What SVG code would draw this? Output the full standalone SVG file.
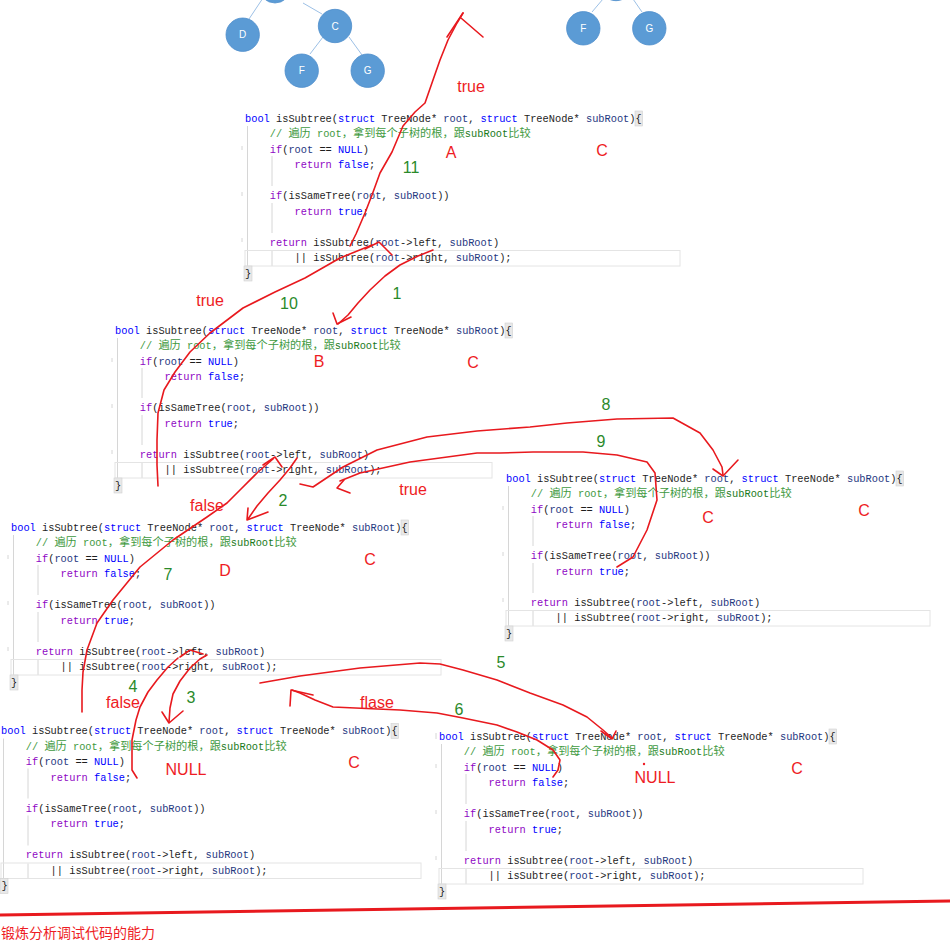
<svg xmlns="http://www.w3.org/2000/svg" width="950" height="941" viewBox="0 0 950 941">
<style>
.code{font-family:"Liberation Mono",monospace;font-size:10.33px;fill:#1e1e1e}
.k{fill:#0000ff}
.c{fill:#8f08c4}
.p{fill:#1f377f}
.m{fill:#3f9a3f}
.ms{fill:#1a7a1a}
.zh{font-family:"Noto Sans CJK SC",sans-serif;font-size:11.2px}
.g{stroke:#d6d6d6;stroke-width:1;fill:none}
.cur{fill:none;stroke:#e4e4e4;stroke-width:1}
.br{fill:#e8e8e8;stroke:#d0d0d0;stroke-width:.6}
.ink{fill:none;stroke:#e8191e;stroke-width:1.6;stroke-linecap:round;stroke-linejoin:round}
.rl{font-family:"Liberation Sans",sans-serif;font-size:16px;fill:#ee1c24;text-anchor:middle}
.gl{font-family:"Liberation Sans",sans-serif;font-size:16px;fill:#2a8a2a;text-anchor:middle}
.tn{fill:#5b9bd5;stroke:#4f8ecb;stroke-width:.8}
.te{stroke:#9cc0e6;stroke-width:1}
.tl{font-family:"Liberation Sans",sans-serif;font-size:10px;fill:#ffffff;text-anchor:middle}
</style>
<rect x="0" y="0" width="950" height="941" fill="#ffffff"/>

<g id="tree-left">
<line class="te" x1="263" y1="-2" x2="249" y2="19"/>
<line class="te" x1="303" y1="3" x2="322" y2="14"/>
<line class="te" x1="323" y1="37" x2="310" y2="54"/>
<line class="te" x1="349" y1="37" x2="362" y2="55"/>
<circle class="tn" cx="275" cy="-13" r="16"/>
<circle class="tn" cx="242.7" cy="34.7" r="16.7"/>
<circle class="tn" cx="335" cy="26" r="16.7"/>
<circle class="tn" cx="301.7" cy="70.7" r="16.7"/>
<circle class="tn" cx="367.7" cy="70.7" r="16.7"/>
<text class="tl" x="242.7" y="38.2">D</text>
<text class="tl" x="335" y="29.5">C</text>
<text class="tl" x="301.7" y="74.2">F</text>
<text class="tl" x="367.7" y="74.2">G</text>
</g>
<g id="tree-right">
<line class="te" x1="592" y1="12" x2="603" y2="-1"/>
<line class="te" x1="642" y1="12" x2="633" y2="-1"/>
<circle class="tn" cx="616" cy="-16" r="16.7"/>
<circle class="tn" cx="583.3" cy="28.3" r="16.7"/>
<circle class="tn" cx="649.3" cy="28.3" r="16.7"/>
<text class="tl" x="583.3" y="31.8">F</text>
<text class="tl" x="649.3" y="31.8">G</text>
</g>

<g id="block-A" transform="translate(245,118)">
<line class="g" x1="2.5" y1="8" x2="2.5" y2="148"/><line class="g" x1="27" y1="38" x2="27" y2="68"/><line class="g" x1="27" y1="85" x2="27" y2="115"/><line class="g" x1="27" y1="133" x2="27" y2="148"/>
<path class="g" d="M-3,28v4M-3,74v4M-3,120v4"/>
<rect class="cur" x="0" y="132.5" width="435" height="15.5"/>
<rect class="br" x="390" y="-7" width="7.5" height="15"/><rect class="br" x="-1" y="148" width="8" height="15"/>
<text class="code" x="0" y="3.5"><tspan class="k">bool</tspan> isSubtree(<tspan class="k">struct</tspan> TreeNode* <tspan class="p">root</tspan>, <tspan class="k">struct</tspan> TreeNode* <tspan class="p">subRoot</tspan>){</text>
<text class="code" x="24.8" y="19"><tspan class="m">// <tspan class="zh">遍历</tspan> root<tspan class="zh">，拿到每个子树的根，跟</tspan></tspan><tspan class="ms">subRoot</tspan><tspan class="m zh">比较</tspan></text>
<text class="code" x="24.8" y="34.5"><tspan class="c">if</tspan>(<tspan class="p">root</tspan> == <tspan class="k">NULL</tspan>)</text>
<text class="code" x="49.6" y="50"><tspan class="c">return</tspan> <tspan class="k">false</tspan>;</text>
<text class="code" x="24.8" y="81"><tspan class="c">if</tspan>(isSameTree(<tspan class="p">root</tspan>, <tspan class="p">subRoot</tspan>))</text>
<text class="code" x="49.6" y="96.5"><tspan class="c">return</tspan> <tspan class="k">true</tspan>;</text>
<text class="code" x="24.8" y="127.5"><tspan class="c">return</tspan> isSubtree(<tspan class="p">root</tspan>-&gt;left, <tspan class="p">subRoot</tspan>)</text>
<text class="code" x="49.6" y="143">|| isSubtree(<tspan class="p">root</tspan>-&gt;right, <tspan class="p">subRoot</tspan>);</text>
<text class="code" x="0" y="158.5">}</text>
</g>

<g id="block-B" transform="translate(115,330)">
<line class="g" x1="2.5" y1="8" x2="2.5" y2="148"/><line class="g" x1="27" y1="38" x2="27" y2="68"/><line class="g" x1="27" y1="85" x2="27" y2="115"/><line class="g" x1="27" y1="133" x2="27" y2="148"/>
<path class="g" d="M-3,28v4M-3,74v4M-3,120v4"/>
<rect class="cur" x="0" y="132.5" width="377" height="15.5"/>
<rect class="br" x="390" y="-7" width="7.5" height="15"/><rect class="br" x="-1" y="148" width="8" height="15"/>
<text class="code" x="0" y="3.5"><tspan class="k">bool</tspan> isSubtree(<tspan class="k">struct</tspan> TreeNode* <tspan class="p">root</tspan>, <tspan class="k">struct</tspan> TreeNode* <tspan class="p">subRoot</tspan>){</text>
<text class="code" x="24.8" y="19"><tspan class="m">// <tspan class="zh">遍历</tspan> root<tspan class="zh">，拿到每个子树的根，跟</tspan></tspan><tspan class="ms">subRoot</tspan><tspan class="m zh">比较</tspan></text>
<text class="code" x="24.8" y="34.5"><tspan class="c">if</tspan>(<tspan class="p">root</tspan> == <tspan class="k">NULL</tspan>)</text>
<text class="code" x="49.6" y="50"><tspan class="c">return</tspan> <tspan class="k">false</tspan>;</text>
<text class="code" x="24.8" y="81"><tspan class="c">if</tspan>(isSameTree(<tspan class="p">root</tspan>, <tspan class="p">subRoot</tspan>))</text>
<text class="code" x="49.6" y="96.5"><tspan class="c">return</tspan> <tspan class="k">true</tspan>;</text>
<text class="code" x="24.8" y="127.5"><tspan class="c">return</tspan> isSubtree(<tspan class="p">root</tspan>-&gt;left, <tspan class="p">subRoot</tspan>)</text>
<text class="code" x="49.6" y="143">|| isSubtree(<tspan class="p">root</tspan>-&gt;right, <tspan class="p">subRoot</tspan>);</text>
<text class="code" x="0" y="158.5">}</text>
</g>

<g id="block-C" transform="translate(506,478)">
<line class="g" x1="2.5" y1="8" x2="2.5" y2="148"/><line class="g" x1="27" y1="38" x2="27" y2="68"/><line class="g" x1="27" y1="85" x2="27" y2="115"/><line class="g" x1="27" y1="133" x2="27" y2="148"/>
<path class="g" d="M-3,28v4M-3,74v4M-3,120v4"/>
<rect class="cur" x="0" y="132.5" width="424" height="15.5"/>
<rect class="br" x="390" y="-7" width="7.5" height="15"/><rect class="br" x="-1" y="148" width="8" height="15"/>
<text class="code" x="0" y="3.5"><tspan class="k">bool</tspan> isSubtree(<tspan class="k">struct</tspan> TreeNode* <tspan class="p">root</tspan>, <tspan class="k">struct</tspan> TreeNode* <tspan class="p">subRoot</tspan>){</text>
<text class="code" x="24.8" y="19"><tspan class="m">// <tspan class="zh">遍历</tspan> root<tspan class="zh">，拿到每个子树的根，跟</tspan></tspan><tspan class="ms">subRoot</tspan><tspan class="m zh">比较</tspan></text>
<text class="code" x="24.8" y="34.5"><tspan class="c">if</tspan>(<tspan class="p">root</tspan> == <tspan class="k">NULL</tspan>)</text>
<text class="code" x="49.6" y="50"><tspan class="c">return</tspan> <tspan class="k">false</tspan>;</text>
<text class="code" x="24.8" y="81"><tspan class="c">if</tspan>(isSameTree(<tspan class="p">root</tspan>, <tspan class="p">subRoot</tspan>))</text>
<text class="code" x="49.6" y="96.5"><tspan class="c">return</tspan> <tspan class="k">true</tspan>;</text>
<text class="code" x="24.8" y="127.5"><tspan class="c">return</tspan> isSubtree(<tspan class="p">root</tspan>-&gt;left, <tspan class="p">subRoot</tspan>)</text>
<text class="code" x="49.6" y="143">|| isSubtree(<tspan class="p">root</tspan>-&gt;right, <tspan class="p">subRoot</tspan>);</text>
<text class="code" x="0" y="158.5">}</text>
</g>

<g id="block-D" transform="translate(11,527)">
<line class="g" x1="2.5" y1="8" x2="2.5" y2="148"/><line class="g" x1="27" y1="38" x2="27" y2="68"/><line class="g" x1="27" y1="85" x2="27" y2="115"/><line class="g" x1="27" y1="133" x2="27" y2="148"/>
<path class="g" d="M-3,28v4M-3,74v4M-3,120v4"/>
<rect class="cur" x="0" y="132.5" width="430" height="15.5"/>
<rect class="br" x="390" y="-7" width="7.5" height="15"/><rect class="br" x="-1" y="148" width="8" height="15"/>
<text class="code" x="0" y="3.5"><tspan class="k">bool</tspan> isSubtree(<tspan class="k">struct</tspan> TreeNode* <tspan class="p">root</tspan>, <tspan class="k">struct</tspan> TreeNode* <tspan class="p">subRoot</tspan>){</text>
<text class="code" x="24.8" y="19"><tspan class="m">// <tspan class="zh">遍历</tspan> root<tspan class="zh">，拿到每个子树的根，跟</tspan></tspan><tspan class="ms">subRoot</tspan><tspan class="m zh">比较</tspan></text>
<text class="code" x="24.8" y="34.5"><tspan class="c">if</tspan>(<tspan class="p">root</tspan> == <tspan class="k">NULL</tspan>)</text>
<text class="code" x="49.6" y="50"><tspan class="c">return</tspan> <tspan class="k">false</tspan>;</text>
<text class="code" x="24.8" y="81"><tspan class="c">if</tspan>(isSameTree(<tspan class="p">root</tspan>, <tspan class="p">subRoot</tspan>))</text>
<text class="code" x="49.6" y="96.5"><tspan class="c">return</tspan> <tspan class="k">true</tspan>;</text>
<text class="code" x="24.8" y="127.5"><tspan class="c">return</tspan> isSubtree(<tspan class="p">root</tspan>-&gt;left, <tspan class="p">subRoot</tspan>)</text>
<text class="code" x="49.6" y="143">|| isSubtree(<tspan class="p">root</tspan>-&gt;right, <tspan class="p">subRoot</tspan>);</text>
<text class="code" x="0" y="158.5">}</text>
</g>

<g id="block-E" transform="translate(1,730.5)">
<line class="g" x1="2.5" y1="8" x2="2.5" y2="148"/><line class="g" x1="27" y1="38" x2="27" y2="68"/><line class="g" x1="27" y1="85" x2="27" y2="115"/><line class="g" x1="27" y1="133" x2="27" y2="148"/>
<rect class="cur" x="0" y="132.5" width="420" height="15.5"/>
<rect class="br" x="390" y="-7" width="7.5" height="15"/><rect class="br" x="-1" y="148" width="8" height="15"/>
<text class="code" x="0" y="3.5"><tspan class="k">bool</tspan> isSubtree(<tspan class="k">struct</tspan> TreeNode* <tspan class="p">root</tspan>, <tspan class="k">struct</tspan> TreeNode* <tspan class="p">subRoot</tspan>){</text>
<text class="code" x="24.8" y="19"><tspan class="m">// <tspan class="zh">遍历</tspan> root<tspan class="zh">，拿到每个子树的根，跟</tspan></tspan><tspan class="ms">subRoot</tspan><tspan class="m zh">比较</tspan></text>
<text class="code" x="24.8" y="34.5"><tspan class="c">if</tspan>(<tspan class="p">root</tspan> == <tspan class="k">NULL</tspan>)</text>
<text class="code" x="49.6" y="50"><tspan class="c">return</tspan> <tspan class="k">false</tspan>;</text>
<text class="code" x="24.8" y="81"><tspan class="c">if</tspan>(isSameTree(<tspan class="p">root</tspan>, <tspan class="p">subRoot</tspan>))</text>
<text class="code" x="49.6" y="96.5"><tspan class="c">return</tspan> <tspan class="k">true</tspan>;</text>
<text class="code" x="24.8" y="127.5"><tspan class="c">return</tspan> isSubtree(<tspan class="p">root</tspan>-&gt;left, <tspan class="p">subRoot</tspan>)</text>
<text class="code" x="49.6" y="143">|| isSubtree(<tspan class="p">root</tspan>-&gt;right, <tspan class="p">subRoot</tspan>);</text>
<text class="code" x="0.5" y="158.5">}</text>
</g>

<g id="block-F" transform="translate(439,736)">
<line class="g" x1="2.5" y1="8" x2="2.5" y2="148"/><line class="g" x1="27" y1="38" x2="27" y2="68"/><line class="g" x1="27" y1="85" x2="27" y2="115"/><line class="g" x1="27" y1="133" x2="27" y2="148"/>
<path class="g" d="M-3,-3v6M-3,28v4M-3,74v4M-3,120v4"/>
<rect class="cur" x="0" y="132.5" width="424" height="15.5"/>
<rect class="br" x="390" y="-7" width="7.5" height="15"/><rect class="br" x="-1" y="148" width="8" height="15"/>
<text class="code" x="0" y="3.5"><tspan class="k">bool</tspan> isSubtree(<tspan class="k">struct</tspan> TreeNode* <tspan class="p">root</tspan>, <tspan class="k">struct</tspan> TreeNode* <tspan class="p">subRoot</tspan>){</text>
<text class="code" x="24.8" y="19"><tspan class="m">// <tspan class="zh">遍历</tspan> root<tspan class="zh">，拿到每个子树的根，跟</tspan></tspan><tspan class="ms">subRoot</tspan><tspan class="m zh">比较</tspan></text>
<text class="code" x="24.8" y="34.5"><tspan class="c">if</tspan>(<tspan class="p">root</tspan> == <tspan class="k">NULL</tspan>)</text>
<text class="code" x="49.6" y="50"><tspan class="c">return</tspan> <tspan class="k">false</tspan>;</text>
<text class="code" x="24.8" y="81"><tspan class="c">if</tspan>(isSameTree(<tspan class="p">root</tspan>, <tspan class="p">subRoot</tspan>))</text>
<text class="code" x="49.6" y="96.5"><tspan class="c">return</tspan> <tspan class="k">true</tspan>;</text>
<text class="code" x="24.8" y="127.5"><tspan class="c">return</tspan> isSubtree(<tspan class="p">root</tspan>-&gt;left, <tspan class="p">subRoot</tspan>)</text>
<text class="code" x="49.6" y="143">|| isSubtree(<tspan class="p">root</tspan>-&gt;right, <tspan class="p">subRoot</tspan>);</text>
<text class="code" x="0" y="158.5">}</text>
</g>

<g id="connectors">
<path class="ink" d="M350,246 L356,234 L365,213 L372,195 L380,173 L392,152 L403,126 L415,112 L425,103 L433,80 L440,60 L448,40 L457,23 L463,13"/>
<path class="ink" d="M447,37 L463,13 M461,18 L483,37"/>
<path class="ink" d="M158,486 L157,465 L157,440 L158,413 L164,390 L175,372 L190,352 L210,333 L243,308 L275,292 L305,278 L340,258 L372,245"/>
<path class="ink" d="M365,249 L379,242 L392,255"/>
<path class="ink" d="M433,250 L418,256 L400,265 L385,276 L370,290 L358,303 L348,315 L338,324"/>
<path class="ink" d="M333,313 L337,324 L351,317"/>
<path class="ink" d="M297,458 L290,468 L280,480 L268,493 L257,506 L248,519"/>
<path class="ink" d="M248,508 L247,520 L268,512"/>
<path class="ink" d="M82,712 L82,690 L83,672 L87,650 L97,623 L113,600 L140,567 L173,540 L207,517 L227,503 L240,490 L258,472 L273,459"/>
<path class="ink" d="M263,465 L275,457 L282,467"/>
<path class="ink" d="M207,655 L200,659 L190,668 L180,681 L173,694 L170,708 L169,722"/>
<path class="ink" d="M162,712 L169,723 L183,711"/>
<path class="ink" d="M137,778 L132,770 L132,755 L132,740 L136,720 L140,707 L148,692 L157,680 L168,667 L178,658"/>
<path class="ink" d="M180,657 L190,650 L203,654"/>
<path class="ink" d="M260,683 L300,676 L360,668 L420,663 L440,664 L463,670 L497,680 L530,693 L563,705 L587,717 L603,730 L612,738"/>
<path class="ink" d="M601,731 L612,739 L616,731"/>
<path class="ink" d="M553,777 L558,770 L560,760 L553,750 L537,740 L517,732 L497,725 L463,718 L437,713 L400,710 L333,707 L315,700 L300,693 L292,690"/>
<path class="ink" d="M290,706 L291,690 L313,695"/>
<path class="ink" d="M300,484 L313,487 L328,477 L343,467 L377,450 L427,437 L477,431 L530,427 L567,423 L617,419 L673,418 L700,433 L713,450 L722,467 L723,475"/>
<path class="ink" d="M713,469 L723,476 L738,460"/>
<path class="ink" d="M617,567 L633,557 L647,530 L657,500 L655,473 L647,462 L617,455 L583,452 L533,452 L500,453 L477,453 L410,462 L360,473 L340,481"/>
<path class="ink" d="M344,480 L337,488 L350,493"/>
</g>

<g id="labels">
<text class="rl" x="471" y="92">true</text>
<text class="gl" x="411" y="173">11</text>
<text class="rl" x="451" y="158">A</text>
<text class="rl" x="602" y="156">C</text>
<text class="rl" x="210" y="306">true</text>
<text class="gl" x="289" y="309">10</text>
<text class="gl" x="397" y="299">1</text>
<text class="rl" x="319" y="367">B</text>
<text class="rl" x="473" y="368">C</text>
<text class="gl" x="606" y="410">8</text>
<text class="gl" x="601" y="447">9</text>
<text class="rl" x="413" y="495">true</text>
<text class="rl" x="207" y="511">false</text>
<text class="gl" x="283" y="506">2</text>
<text class="rl" x="708" y="523">C</text>
<text class="rl" x="864" y="516">C</text>
<text class="rl" x="370" y="565">C</text>
<text class="rl" x="225" y="576">D</text>
<text class="gl" x="168" y="580">7</text>
<text class="gl" x="133" y="692">4</text>
<text class="rl" x="123" y="708">false</text>
<text class="gl" x="191" y="703">3</text>
<text class="rl" x="186" y="775">NULL</text>
<text class="rl" x="354" y="768">C</text>
<text class="rl" x="377" y="708">flase</text>
<text class="gl" x="501" y="668">5</text>
<text class="gl" x="459" y="715">6</text>
<text class="rl" x="655" y="783">NULL</text>
<circle cx="644" cy="764" r="1.2" fill="#ee1c24"/>
<text class="rl" x="797" y="774">C</text>
</g>

<path d="M0,915 L950,901" stroke="#e8191e" stroke-width="3" fill="none"/>
<text x="1" y="938" font-family="'Noto Sans CJK SC', sans-serif" font-size="14" fill="#ee1c24">锻炼分析调试代码的能力</text>
</svg>
